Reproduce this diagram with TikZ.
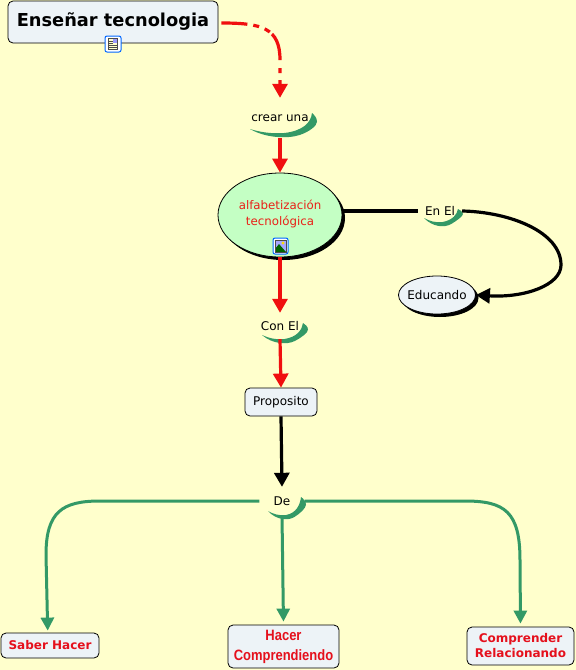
\documentclass[tikz,border=0pt]{standalone}
\usepackage{fontspec}
\setmainfont{DejaVu Sans}
\newfontfamily\angosta[FakeStretch=0.865]{Liberation Sans}
\usetikzlibrary{arrows.meta,shapes.geometric,shadows}
\definecolor{fondo}{HTML}{FFFFCC}
\definecolor{cajaazul}{HTML}{EDF3F7}
\definecolor{verdeclaro}{HTML}{C4FFC4}
\definecolor{verdeluna}{HTML}{339966}
\definecolor{rojotexto}{HTML}{E5101C}
\definecolor{rojoenlace}{HTML}{F00F0F}
\tikzset{
  caja/.style={draw=black,fill=cajaazul,rounded corners=5pt,line width=0.8pt,inner sep=0pt,align=center},
  enlacetexto/.style={inner sep=0pt,font=\fontsize{12}{14}\selectfont},
  elipse/.style={ellipse,draw=black,inner sep=0pt,line width=0.8pt,align=center,
    general shadow={shadow xshift=3pt,shadow yshift=-3pt,fill=black}},
  rojo/.style={draw=rojoenlace,line width=3.2pt,-{Triangle[width=15pt,length=14pt]}},
  negro/.style={draw=black,line width=3.2pt,-{Triangle[width=15pt,length=14pt]}},
  verde/.style={draw=verdeluna,line width=3pt,-{Triangle[width=13pt,length=13pt]}},
  rojob/.style={font=\fontsize{12}{15}\selectfont\bfseries,text=rojotexto}
}
\begin{document}
\begin{tikzpicture}[x=1pt,y=-1pt]
\newcommand{\luna}[4]{\fill[verdeluna] (#1,#2) .. controls (#1+0.25*#3,#2+9) and (#1+0.6*#3,#2+10) .. (#1+0.8*#3,#2+6) .. controls (#1+0.95*#3,#2+3) and (#1+#3+5,#2-0.2*#4) .. (#1+#3+5,#2-0.45*#4) .. controls (#1+#3+5,#2-0.7*#4) and (#1+#3+2,#2-0.9*#4) .. (#1+#3,#2-#4) .. controls (#1+#3-1,#2-0.4*#4) and (#1+0.85*#3,#2+2) .. (#1+0.55*#3,#2+4) .. controls (#1+0.35*#3,#2+5) and (#1+0.15*#3,#2+3) .. (#1,#2) -- cycle;}
\fill[fondo] (0,0) rectangle (576,670);
\useasboundingbox (0,0) rectangle (576,670);
\luna{250}{129}{62}{16}
\luna{424}{218}{34}{9}
\luna{262}{335}{41}{12}
\luna{268}{511}{33}{14}
\node[caja,minimum width=210pt,minimum height=42pt,font=\fontsize{17.8}{20}\selectfont\bfseries] (ensenar) at (113,22) {\raisebox{4pt}{Enseñar tecnologia}};
\node[enlacetexto,minimum height=40pt] (crear) at (280,118) {crear una\hspace{3pt}};
\node[elipse,fill=verdeclaro,minimum width=124pt,minimum height=84pt,font=\fontsize{11.8}{16}\selectfont,text=rojotexto!85!orange] (alfabetizacion) at (280,215) {\raisebox{5pt}{alfabetización}\\\raisebox{5pt}{tecnológica}};
\node[enlacetexto,minimum width=44pt,minimum height=14pt] (enel) at (440,211) {En El};
\node[elipse,fill=cajaazul,inner xsep=-5pt,minimum width=77pt,minimum height=38pt,font=\fontsize{12}{14}\selectfont] (educando) at (437,295) {Educando};
\node[enlacetexto,minimum height=26pt] (conel) at (280,326) {Con El};
\node[caja,minimum width=72pt,minimum height=28pt,font=\fontsize{12}{14}\selectfont] (proposito) at (281,402) {Proposito};
\node[enlacetexto,minimum width=45pt,minimum height=28pt] (de) at (282,501) {De};
\node[caja,rojob,minimum width=98pt,minimum height=25pt] (saber) at (50,645.5) {Saber Hacer};
\node[caja,minimum width=111pt,minimum height=43pt,font=\angosta\fontsize{15}{20}\selectfont\bfseries,text=rojotexto] (hacer) at (283.5,646.5) {Hacer\\Comprendiendo};
\node[caja,rojob,minimum width=107pt,minimum height=38pt] (comprender) at (520.5,646) {Comprender\\Relacionando};
\draw[rojo,dash pattern=on 26pt off 6pt on 6pt off 6pt on 6pt off 3pt on 28pt off 8pt on 5pt off 7pt on 30pt] (ensenar.east) ++(3,1) .. controls (262,23) and (280,28) .. (280,60) -- (crear.north);
\draw[rojo] (crear.south) -- (alfabetizacion.north);
\draw[rojo] (alfabetizacion.south) -- (conel.north);
\draw[rojo] (conel.south) -- (proposito.north);
\draw[negro] (proposito.south) -- (de.north);
\draw[draw=black,line width=3.2pt] (alfabetizacion.east |- enel.west) -- (enel.west);
\draw[negro] (enel.east) .. controls (510,212) and (561,232) .. (561,265) .. controls (561,285) and (525,298) .. (educando.east);
\draw[verde,shorten >=2pt] (de.west) -- (100,501) .. controls (62,501) and (46,512) .. (46,555) -- (saber.100);
\draw[verde,shorten >=3pt] (de.south) -- (hacer.north);
\draw[verde,shorten >=3pt] (de.east) -- (465,501) .. controls (505,501) and (520,512) .. (520,560) -- (comprender.north);
\draw[draw=blue!60!cyan,fill=white,rounded corners=2pt,line width=1pt] (105,36) rectangle (121,52);
\fill[black!70] (108,38) rectangle (118,50);
\fill[fondo] (109,39) rectangle (117,49);
\fill[blue!40] (113,39) rectangle (117,43);
\foreach \y in {41,43}{\draw[black!70,line width=0.5pt] (109,\y) -- (113,\y);}
\foreach \y in {45,47}{\draw[black!70,line width=0.5pt] (109,\y) -- (117,\y);}
\draw[draw=blue!60!cyan,fill=white,rounded corners=2pt,line width=1pt] (273,238) rectangle (288,254);
\fill[blue!35!white] (275,240) rectangle (286,252);
\fill[yellow!80!orange] (283,243) circle (1.7);
\fill[green!40!black] (275,252) -- (275,249) -- (279,244) -- (286,252) -- cycle;
\draw[black!70,line width=0.5pt] (275,240) rectangle (286,252);
\end{tikzpicture}
\end{document}
